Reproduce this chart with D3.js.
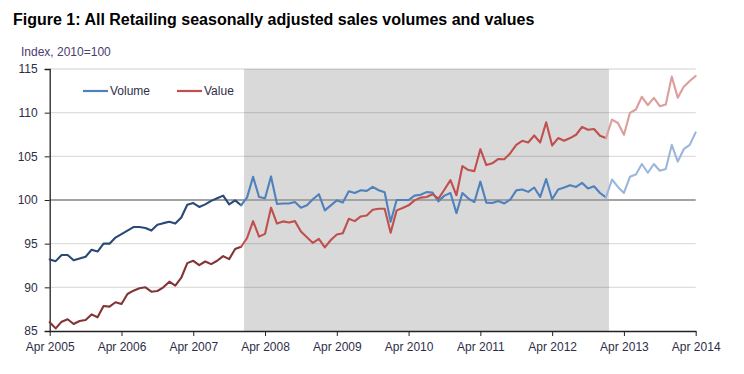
<!DOCTYPE html>
<html><head><meta charset="utf-8">
<script src="https://cdn.jsdelivr.net/npm/d3@7"></script>
<style>
html,body{margin:0;padding:0;background:#fff;}
svg{display:block;font-family:"Liberation Sans",Arial,sans-serif;}
</style></head>
<body>
<svg id="chart" width="744" height="374"></svg>
<script>
// Monthly index values, Apr 2005 .. Apr 2014 (2010 = 100)
const volume = [
 93.2,93.0,93.7,93.7,93.1,93.3,93.5,94.3,94.1,95.0,95.0,95.7,
 96.1,96.5,96.9,96.9,96.8,96.5,97.16,97.35,97.5,97.3,98.0,99.45,
 99.65,99.2,99.5,99.9,100.2,100.5,99.5,99.95,99.4,100.3,102.65,100.35,
 100.2,102.7,99.55,99.6,99.6,99.77,99.12,99.39,100.08,100.66,98.81,99.39,
 99.96,99.7,101.0,100.81,101.12,101.04,101.5,101.12,100.89,97.5,100.0,100.0,
 100.0,100.5,100.6,100.9,100.85,99.85,100.5,100.8,98.5,100.8,100.16,99.77,
 102.1,99.7,99.65,99.88,99.6,100.05,101.1,101.2,100.93,101.43,100.35,102.4,
 100.08,101.2,101.43,101.7,101.5,101.96,101.31,101.58,100.8,100.3,102.35,101.5,
 100.81,102.66,102.93,104.12,103.12,104.12,103.35,103.54,106.31,104.39,105.82,106.31,
 107.74
];
const value = [
 86.0,85.3,86.07,86.34,85.8,86.15,86.26,86.9,86.57,87.86,87.79,88.29,
 88.09,89.24,89.62,89.89,90.0,89.5,89.58,90.0,90.65,90.2,91.1,92.77,
 93.04,92.54,92.96,92.66,93.04,93.58,93.23,94.39,94.65,95.65,97.58,95.81,
 96.12,99.12,97.3,97.55,97.42,97.58,96.4,95.73,95.08,95.54,94.57,95.42,
 96.04,96.19,97.85,97.58,98.12,98.23,98.89,99.0,99.0,96.25,98.81,99.08,
 99.39,99.96,100.27,100.35,100.66,100.16,101.2,102.27,100.54,103.89,103.43,103.31,
 105.82,104.0,104.2,104.7,104.66,105.36,106.3,106.78,106.58,107.39,106.58,108.9,
 106.24,107.09,106.78,107.09,107.47,108.36,108.05,108.13,107.36,107.09,109.2,108.82,
 107.47,109.97,110.36,111.82,110.86,111.7,110.74,110.94,114.13,111.7,112.98,113.63,
 114.2
];
const xTickLabels = ["Apr 2005","Apr 2006","Apr 2007","Apr 2008","Apr 2009","Apr 2010","Apr 2011","Apr 2012","Apr 2013","Apr 2014"];
const yTicks = [85,90,95,100,105,110,115];
const seriesNames = ["Volume","Value"];
// shaded period (month index from Apr 2005): Dec 2007/Jan 2008 .. Jan/Feb 2013
const shadeStart = 32.5, shadeEnd = 93.5;
// colour phases: before shading, during, after
const phaseBreaks = [32, 93];

const svg = d3.select("#chart");
const W = 744, H = 374;
const x = d3.scaleLinear().domain([0, volume.length - 1]).range([49.7, 695.7]);
const y = d3.scaleLinear().domain([85, 115]).range([331, 69]);

svg.append("rect").attr("width", W).attr("height", H).attr("fill", "#fff");

// title
svg.append("text").attr("x", 13).attr("y", 25)
  .attr("font-size", 16).attr("font-weight", "bold").attr("fill", "#000")
  .text("Figure 1: All Retailing seasonally adjusted sales volumes and values");
svg.append("text").attr("x", 21).attr("y", 55.5)
  .attr("font-size", 12).attr("fill", "#4b3d6e").text("Index, 2010=100");

// shading
svg.append("rect")
  .attr("x", x(shadeStart)).attr("y", y(115))
  .attr("width", x(shadeEnd) - x(shadeStart)).attr("height", y(85) - y(115))
  .attr("fill", "#d9d9d9");

// gridlines
svg.append("g").selectAll("line").data(yTicks.filter(t => t !== 85 && t !== 100)).join("line")
  .attr("x1", x(0)).attr("x2", x(volume.length - 1))
  .attr("y1", d => y(d)).attr("y2", d => y(d))
  .attr("stroke", "rgba(0,0,0,0.13)").attr("stroke-width", 1.3);
svg.append("line")
  .attr("x1", x(0)).attr("x2", x(volume.length - 1))
  .attr("y1", y(100)).attr("y2", y(100))
  .attr("stroke", "#a3a3a3").attr("stroke-width", 2);

// y axis
const yAxis = d3.axisLeft(y).tickValues(yTicks).tickSize(5).tickPadding(7).tickFormat(d3.format("d"));
const gy = svg.append("g").attr("transform", `translate(${x(0)},0)`).call(yAxis);
gy.select(".domain").attr("stroke", "#222").attr("stroke-width", 1.3);
gy.selectAll(".tick line").attr("stroke", "#222");
gy.selectAll(".tick text").attr("font-size", 12).attr("fill", "#2e2e48")
  .attr("font-family", "Liberation Sans, Arial, sans-serif");

// x axis
const xTickIdx = xTickLabels.map((_, i) => i * 12);
const xAxis = d3.axisBottom(x).tickValues(xTickIdx).tickSize(5).tickSizeOuter(0).tickPadding(6)
  .tickFormat((d, i) => xTickLabels[i]);
const gx = svg.append("g").attr("transform", `translate(0,${y(85)})`).call(xAxis);
gx.select(".domain").attr("stroke", "#222").attr("stroke-width", 1.3);
gx.selectAll(".tick line").attr("stroke", "#222");
gx.selectAll(".tick text").attr("font-size", 12).attr("fill", "#2e2e48")
  .attr("font-family", "Liberation Sans, Arial, sans-serif");

// series
const colors = {
  Volume: ["#284a74", "#4f81bd", "#9ab7da"],
  Value:  ["#833434", "#c0504d", "#dc9d9b"]
};
const line = d3.line().x(d => x(d.i)).y(d => y(d.v));
function drawSeries(name, arr) {
  const pts = arr.map((v, i) => ({i, v}));
  const segs = [
    pts.slice(0, phaseBreaks[0] + 1),
    pts.slice(phaseBreaks[0], phaseBreaks[1] + 1),
    pts.slice(phaseBreaks[1])
  ];
  segs.forEach((s, k) => {
    svg.append("path").attr("d", line(s)).attr("fill", "none")
      .attr("stroke", colors[name][k]).attr("stroke-width", 2.1)
      .attr("stroke-linejoin", "round").attr("stroke-linecap", "round");
  });
}
drawSeries("Volume", volume);
drawSeries("Value", value);

// legend
const legend = [
  {name: seriesNames[0], x1: 83, color: colors.Volume[1]},
  {name: seriesNames[1], x1: 177, color: colors.Value[1]}
];
const lg = svg.append("g");
legend.forEach(l => {
  lg.append("line").attr("x1", l.x1).attr("x2", l.x1 + 25).attr("y1", 91).attr("y2", 91)
    .attr("stroke", l.color).attr("stroke-width", 2.2);
  lg.append("text").attr("x", l.x1 + 27).attr("y", 95.3).attr("font-size", 12)
    .attr("fill", "#2e2e48").text(l.name);
});
</script>
</body></html>
